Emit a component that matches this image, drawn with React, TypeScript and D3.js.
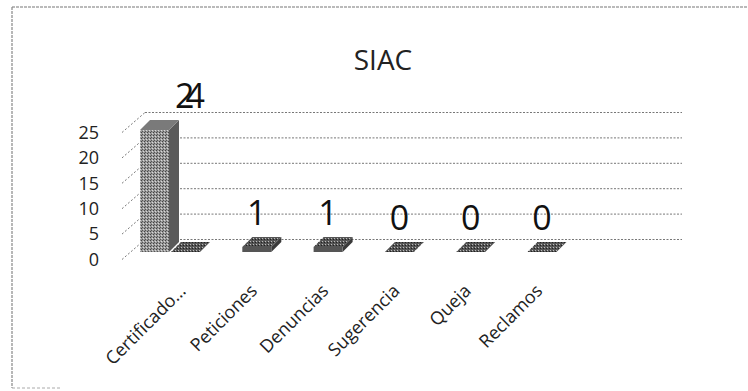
import React from "react";
import * as d3 from "d3";

const categories = ["Certificado…", "Peticiones", "Denuncias", "Sugerencia", "Queja", "Reclamos"];
const serieA: (number | null)[] = [24, null, null, null, null, null];
const serieB: (number | null)[] = [0, 1, 1, 0, 0, 0];
const yTicks = [0, 5, 10, 15, 20, 25];
const title = "SIAC";

const W = 748;
const H = 391;
const FONT = "'Open Sans', 'DejaVu Sans', sans-serif";

export default function App() {
  const x = d3.scaleBand<string>().domain(categories).range([140, 140 + 71.3 * categories.length]).paddingInner(0).paddingOuter(0);
  const h = d3.scaleLinear().domain([0, 25]).range([0, 127]);

  const backFloor = 239.5;
  const backLeft = 145;
  const backRight = 682;
  const frontAxisX = 122;
  const frontLabelFloor = 259.5;
  const barFloor = 252;
  const depthX = 10;
  const depthY = -10;
  const barW = 29;

  const bar = (x0: number, v: number, key: string, dark: boolean) => {
    const hh = h(v);
    const yTop = barFloor - hh;
    const front = `M${x0},${barFloor}L${x0 + barW},${barFloor}L${x0 + barW},${yTop}L${x0},${yTop}Z`;
    const top = `M${x0},${yTop}L${x0 + barW},${yTop}L${x0 + barW + depthX},${yTop + depthY}L${x0 + depthX},${yTop + depthY}Z`;
    const side = `M${x0 + barW},${barFloor}L${x0 + barW + depthX},${barFloor + depthY}L${x0 + barW + depthX},${yTop + depthY}L${x0 + barW},${yTop}Z`;
    return (
      <g key={key}>
        <path d={side} fill={dark ? "#3a3a3a" : "#5a5a5a"} />
        <path d={front} fill={dark ? "#555" : "url(#halftone)"} />
        <path d={top} fill={dark ? "url(#halftoneDark)" : "#7a7a7a"} />
      </g>
    );
  };

  return (
    <svg width={W} height={H} style={{ position: "absolute", left: 0, top: 0 }}>
      <defs>
        <pattern id="halftone" width="3" height="3" patternUnits="userSpaceOnUse">
          <rect width="3" height="3" fill="#9a9a9a" />
          <rect x="0" y="0" width="1" height="1" fill="#444" />
          <rect x="2" y="1" width="1" height="1" fill="#d8d8d8" />
          <rect x="1" y="2" width="1" height="1" fill="#555" />
        </pattern>
        <pattern id="halftoneDark" width="3" height="3" patternUnits="userSpaceOnUse">
          <rect width="3" height="3" fill="#555" />
          <rect x="1" y="1" width="1" height="1" fill="#bbb" />
          <rect x="0" y="2" width="1" height="1" fill="#222" />
        </pattern>
      </defs>
      <rect x={0} y={0} width={W} height={H} fill="#fff" />
      {/* frame */}
      <line x1={12} y1={7} x2={W} y2={7} stroke="#777" strokeWidth={1.2} strokeDasharray="3,1" />
      <line x1={12} y1={7} x2={12} y2={388} stroke="#888" strokeWidth={1.2} strokeDasharray="3,1" />
      <line x1={12} y1={388} x2={60} y2={388} stroke="#aaa" strokeWidth={1} strokeDasharray="3,2" />

      {/* title */}
      <text x={383} y={70} textAnchor="middle" fontFamily={FONT} fontSize={28} fill="#222">{title}</text>

      {/* back wall gridlines */}
      {yTicks.map((t) => (
        <line key={"g" + t} x1={backLeft} x2={backRight} y1={backFloor - h(t)} y2={backFloor - h(t)}
          stroke="#777" strokeWidth={1} strokeDasharray="2,1.5" />
      ))}
      {/* side wall diagonals */}
      {yTicks.map((t) => (
        <line key={"s" + t} x1={frontAxisX} y1={frontLabelFloor - h(t)} x2={backLeft} y2={backFloor - h(t)}
          stroke="#777" strokeWidth={1} strokeDasharray="2,2" />
      ))}

      {/* y tick labels */}
      {yTicks.map((t) => (
        <text key={"y" + t} x={99} y={frontLabelFloor - h(t)} dy="0.35em" textAnchor="end"
          fontFamily={FONT} fontSize={18} fill="#222">{t}</text>
      ))}

      {/* bars */}
      {categories.map((c, i) => {
        const x0 = x(c)!;
        const a = serieA[i];
        const b = serieB[i];
        return (
          <g key={c}>
            {b !== null && bar(x0 + 31, b, "b" + i, true)}
            {a !== null && bar(x0, a, "a" + i, false)}
          </g>
        );
      })}

      {/* data labels */}
      {categories.map((c, i) => {
        const x0 = x(c)!;
        const a = serieA[i] ?? 0;
        const b = serieB[i] ?? 0;
        const total = a + b;
        const top = barFloor - h(Math.max(a, b));
        return (
          <text key={"l" + i} x={x0 + 31 + barW / 2} y={top - 22} textAnchor="middle"
            fontFamily={FONT} fontSize={34} fill="#111" letterSpacing={total >= 10 ? -9 : 0}>{total}</text>
        );
      })}

      {/* category labels */}
      {categories.map((c) => {
        const ax = x(c)! + 47;
        const ay = 292;
        return (
          <text key={"c" + c} x={ax} y={ay} textAnchor="end" transform={`rotate(-45 ${ax} ${ay})`}
            fontFamily={FONT} fontSize={18} fill="#222">{c}</text>
        );
      })}
    </svg>
  );
}
